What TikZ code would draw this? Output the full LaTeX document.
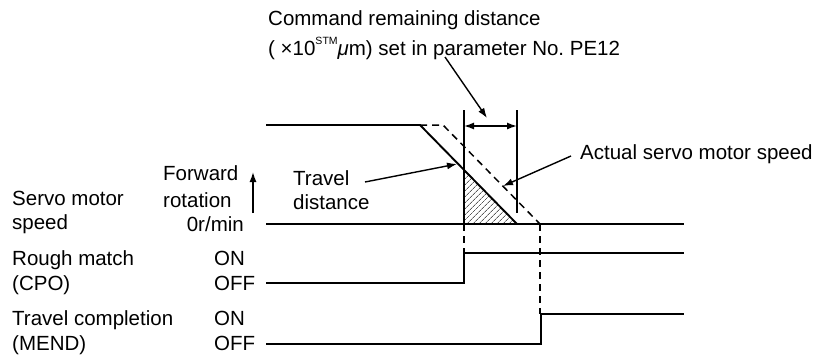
\documentclass[tikz,border=0pt]{standalone}
\usepackage{fontspec}
\setmainfont{Liberation Sans}
\usetikzlibrary{arrows.meta,patterns.meta}
\frenchspacing
\begin{document}
\begin{tikzpicture}[x=1pt,y=-1pt,
  txt/.style={anchor=base west,inner sep=0pt,font=\fontsize{20.5}{25}\selectfont},
  txtr/.style={anchor=base east,inner sep=0pt,font=\fontsize{20.5}{25}\selectfont},
  sig/.style={line width=1.9pt,line join=miter},
  dsh/.style={line width=1.5pt,dash pattern=on 7pt off 5pt},
  thin/.style={line width=1.4pt},
  arr/.style={line width=1.4pt,-{Latex[length=10pt,width=7pt]}},
  dimarr/.style={line width=1.4pt,{Latex[length=10pt,width=7pt]}-{Latex[length=10pt,width=7pt]}}]
\useasboundingbox (0,0) rectangle (817,354);

% texts
\node[txt] (cmd1) at (268,25) {Command remaining distance};
\node[txt] (cmd2) at (268,55) {( ×10\raisebox{0.5em}{\fontsize{10.5}{11}\selectfont STM}{\itshape μ}m) set in parameter No.\ PE12};
\node[txt] (sm1) at (12,205) {Servo motor};
\node[txt] (sm2) at (12,229) {speed};
\node[txt] (fw1) at (163,180) {Forward};
\node[txt] (fw2) at (163,207) {rotation};
\node[txtr] (zero) at (244,231) {0r/min};
\node[txt] (rm1) at (12,265) {Rough match};
\node[txt] (rm2) at (12,290) {(CPO)};
\node[txt] (on1) at (214,265) {ON};
\node[txt] (off1) at (214,290) {OFF};
\node[txt] (tc1) at (12,325) {Travel completion};
\node[txt] (tc2) at (12,350) {(MEND)};
\node[txt] (on2) at (214,325) {ON};
\node[txt] (off2) at (214,350) {OFF};
\node[txt] (td1) at (293,185) {Travel};
\node[txt] (td2) at (293,209) {distance};
\node[txt] (act) at (580,159) {Actual servo motor speed};

% key coordinates
\coordinate (s0) at (266,125);
\coordinate (s1) at (420,125);
\coordinate (s2) at (517,224);
\coordinate (d1) at (443,125);
\coordinate (d2) at (540,224);
\coordinate (z0) at (266,224);
\coordinate (z1) at (684,224);
\coordinate (h1) at (464,169);
\coordinate (h2) at (464,224);
\coordinate (vLt) at (464,110);
\coordinate (vRt) at (517,110);
\coordinate (vRb) at (517,213);
\coordinate (aL) at (464,126);
\coordinate (aR) at (517,126);
\coordinate (c0) at (266,283);
\coordinate (c1) at (464,283);
\coordinate (c2) at (464,253);
\coordinate (c3) at (684,253);
\coordinate (m0) at (266,344);
\coordinate (m1) at (541,344);
\coordinate (m2) at (541,314);
\coordinate (m3) at (684,314);
\coordinate (md) at (540,314);
\coordinate (lt0) at (445,57);
\coordinate (lt1) at (487,118);
\coordinate (ltd0) at (365,182);
\coordinate (ltd1) at (457,164);
\coordinate (la0) at (571,156);
\coordinate (la1) at (503,186);
\coordinate (up0) at (253,213);
\coordinate (up1) at (253,172);

% hatched area
\fill[pattern={Lines[angle=45,distance=4pt,line width=0.6pt]}] (h1) -- (h2) -- (s2) -- cycle;

% speed
\draw[sig] (s0) -- (s1) -- (s2);
\draw[sig] (z0) -- (z1);
\draw[dsh] (s1) -- (d1) -- (d2);

% verticals and dimension
\draw[thin] (vLt) -- (h2);
\draw[dsh] (h2) -- (c2);
\draw[thin] (vRt) -- (vRb);
\draw[dimarr] (aL) -- (aR);
\draw[dsh] (d2) -- (md);

% signals
\draw[sig] (c0) -- (c1) -- (c2) -- (c3);
\draw[sig] (m0) -- (m1) -- (m2) -- (m3);

% leaders
\draw[arr] (lt0) -- (lt1);
\draw[arr] (ltd0) -- (ltd1);
\draw[arr] (la0) -- (la1);
\draw[arr] (up0) -- (up1);
\end{tikzpicture}
\end{document}
